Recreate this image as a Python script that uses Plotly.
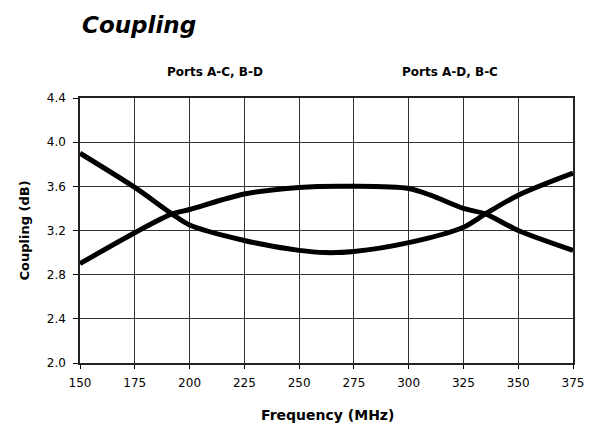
import plotly.graph_objects as go

freq_a = [150, 175, 192, 200, 225, 250, 262, 275, 300, 325, 335, 350, 375]
coupling_a = [3.90, 3.59, 3.35, 3.25, 3.11, 3.02, 3.00, 3.01, 3.09, 3.23, 3.35, 3.52, 3.72]

freq_b = [150, 175, 192, 200, 225, 250, 275, 300, 310, 325, 335, 350, 375]
coupling_b = [2.90, 3.18, 3.35, 3.39, 3.53, 3.59, 3.60, 3.58, 3.52, 3.40, 3.35, 3.20, 3.02]

x_ticks = [150, 175, 200, 225, 250, 275, 300, 325, 350, 375]
y_ticks = [2.0, 2.4, 2.8, 3.2, 3.6, 4.0, 4.4]

FONT = "DejaVu Sans, Arial, sans-serif"

fig = go.Figure()
for xs, ys, name in [(freq_a, coupling_a, "Ports A-C, B-D"), (freq_b, coupling_b, "Ports A-D, B-C")]:
    fig.add_trace(go.Scatter(x=xs, y=ys, mode="lines", name=name,
                             line=dict(color="black", width=5, shape="spline", smoothing=0.8)))

fig.update_layout(
    width=599, height=430,
    margin=dict(l=72, r=34, t=90, b=75),
    paper_bgcolor="white", plot_bgcolor="white",
    showlegend=False,
    font=dict(family=FONT, color="black"),
    annotations=[
        dict(text="<b><i>Coupling</i></b>", xref="paper", yref="paper", x=0.0, y=1.2755,
             xanchor="left", yanchor="middle", showarrow=False, font=dict(size=23)),
        dict(text="<b>Ports A-C, B-D</b>", xref="paper", yref="paper", x=0.273, y=1.098,
             xanchor="center", yanchor="middle", showarrow=False, font=dict(size=12)),
        dict(text="<b>Ports A-D, B-C</b>", xref="paper", yref="paper", x=0.75, y=1.098,
             xanchor="center", yanchor="middle", showarrow=False, font=dict(size=12)),
        dict(text="<b>Frequency (MHz)</b>", xref="paper", yref="paper", x=0.503, y=-0.196,
             xanchor="center", yanchor="middle", showarrow=False, font=dict(size=14)),
        dict(text="<b>Coupling (dB)</b>", xref="paper", yref="paper", x=-0.1116, y=0.5,
             xanchor="center", yanchor="middle", showarrow=False, textangle=-90,
             font=dict(size=13)),
    ],
)
fig.update_xaxes(range=[150, 375], tickvals=x_ticks, ticktext=[str(v) for v in x_ticks],
                 showgrid=True, gridcolor="#333", gridwidth=1.3, showline=True, linecolor="#222",
                 linewidth=1.5, mirror=True, ticks="outside", ticklen=4, tickcolor="black",
                 tickfont=dict(size=12), ticklabelstandoff=4, zeroline=False)
fig.update_yaxes(range=[2.0, 4.4], tickvals=y_ticks, ticktext=[f"{v:.1f}" for v in y_ticks],
                 showgrid=True, gridcolor="#333", gridwidth=1.3, showline=True, linecolor="#222",
                 linewidth=1.5, mirror=True, ticks="outside", ticklen=5, tickcolor="black",
                 tickfont=dict(size=12), ticklabelstandoff=5, zeroline=False)

fig.write_html("out.html")
